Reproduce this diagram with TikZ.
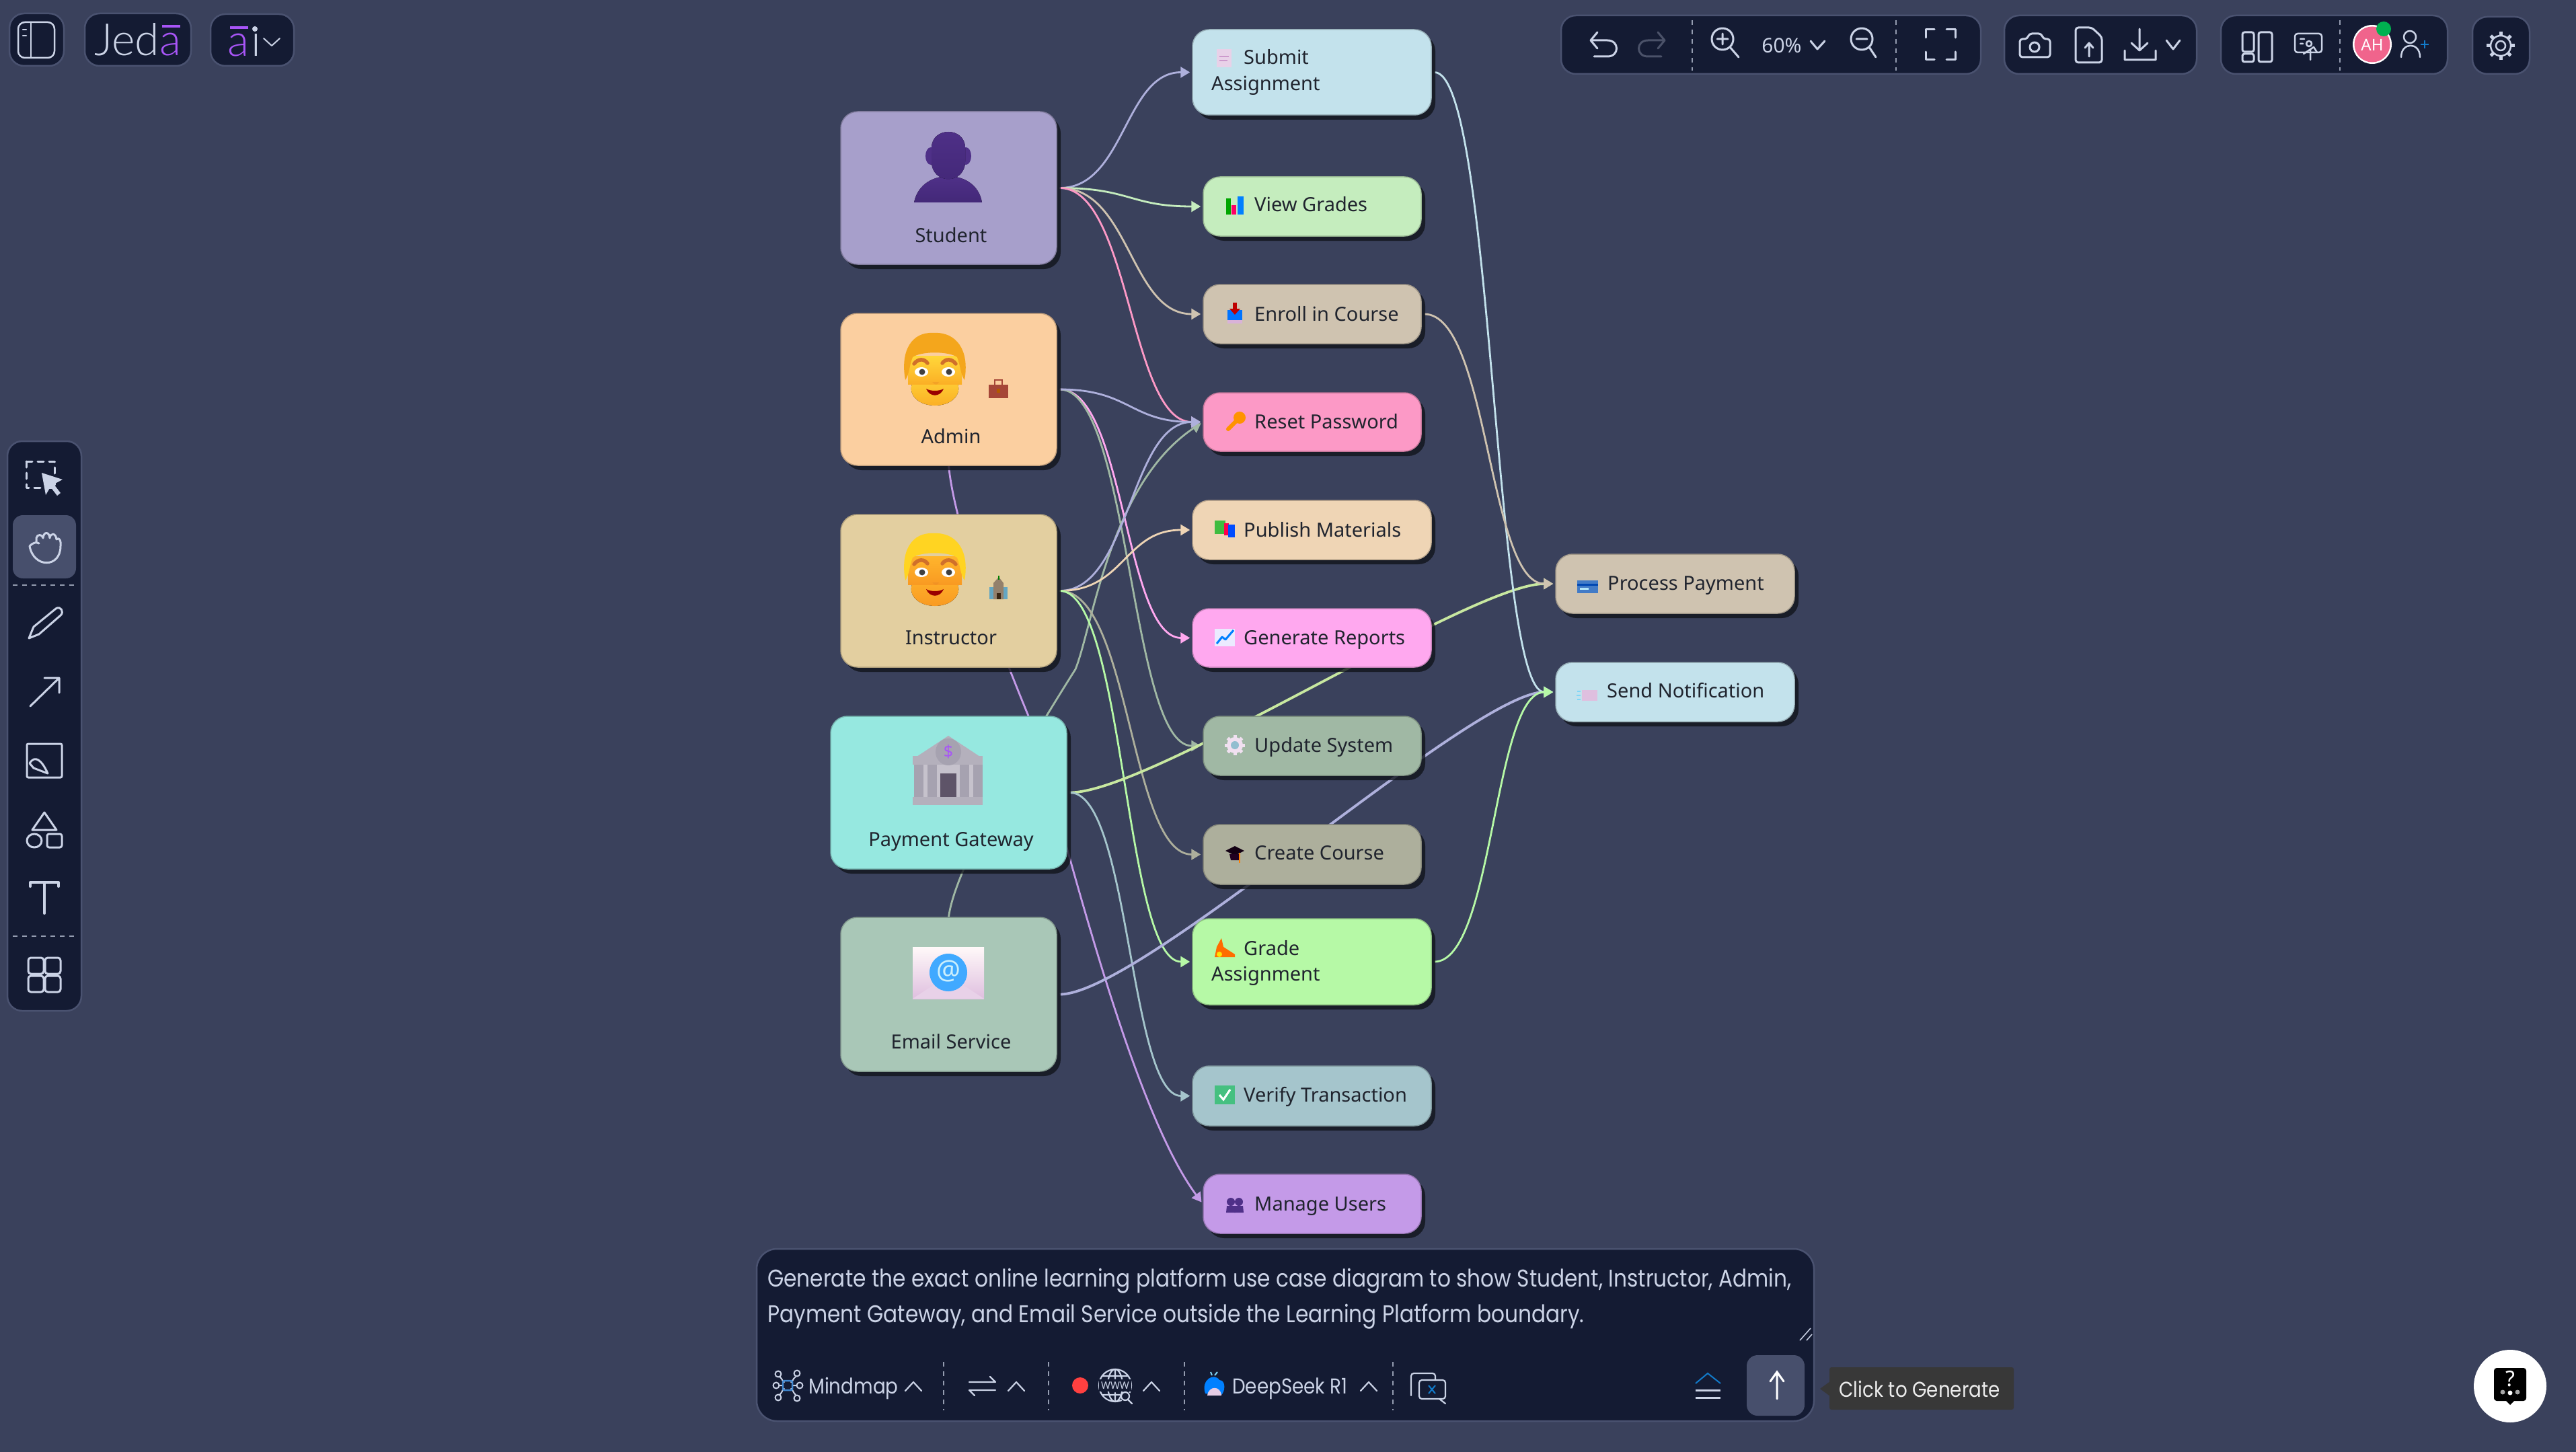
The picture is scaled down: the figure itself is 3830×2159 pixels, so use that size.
\documentclass[tikz,border=0pt]{standalone}
\usepackage{fontspec}
\setmainfont{Noto Sans}
\newfontfamily\uifont[FakeStretch=0.868]{Poppins}
\newfontfamily\logofont[UprightFont=* Light]{Lato}
\usetikzlibrary{calc,arrows.meta,shadows}
\pgfdeclarelayer{bglayer}\pgfdeclarelayer{edgelayer}
\pgfsetlayers{bglayer,edgelayer,main}
\definecolor{bgc}{HTML}{3A415C}
\definecolor{panelc}{HTML}{141B33}
\definecolor{panelb}{HTML}{4A5270}
\definecolor{icol}{HTML}{CBD3E6}
\definecolor{inkc}{HTML}{20242E}
\definecolor{purp}{HTML}{A855F7}
\definecolor{cStudent}{HTML}{A79FCB}
\definecolor{cAdmin}{HTML}{FBCFA0}
\definecolor{cInstr}{HTML}{E3CFA0}
\definecolor{cPay}{HTML}{96E8E0}
\definecolor{cMail}{HTML}{A9C7B7}
\definecolor{cSubmit}{HTML}{C3E2EC}
\definecolor{cView}{HTML}{C5EDBE}
\definecolor{cEnroll}{HTML}{CFC3B0}
\definecolor{cReset}{HTML}{FC99C6}
\definecolor{cPublish}{HTML}{EFD5B5}
\definecolor{cGen}{HTML}{FFA8EF}
\definecolor{cUpdate}{HTML}{A0B8A4}
\definecolor{cCreate}{HTML}{ADAF9C}
\definecolor{cGrade}{HTML}{B6F9A6}
\definecolor{cVerify}{HTML}{A5C5CC}
\definecolor{cManage}{HTML}{C49AE8}
\definecolor{cLav}{HTML}{AEB0DC}
\definecolor{cPaleG}{HTML}{C8E8A0}
\definecolor{bankA}{HTML}{B4B0BC}
\definecolor{bankB}{HTML}{C6C2CC}
\definecolor{bankC}{HTML}{A6A2B0}
\definecolor{bankD}{HTML}{5E5468}
\definecolor{persA}{HTML}{4F3088}
\definecolor{persB}{HTML}{432878}
\definecolor{adHair}{HTML}{F4A61C}
\definecolor{adSkinA}{HTML}{FFD83A}
\definecolor{adSkinB}{HTML}{FBAF25}
\definecolor{inHair}{HTML}{FFD422}
\definecolor{inSkinA}{HTML}{FFB52C}
\definecolor{inSkinB}{HTML}{F99A22}
\definecolor{browc}{HTML}{D0702A}
\definecolor{checkc}{HTML}{45C080}
\definecolor{avatarc}{HTML}{F0648C}
\tikzset{
 boxnode/.style={rectangle,rounded corners=25pt,line width=1.5pt,inner sep=0pt,
   drop shadow={shadow xshift=6pt,shadow yshift=-7pt,fill=black!70!bgc,opacity=.8}},
 edge/.style={line width=2.8pt,-{Triangle[length=14pt,width=16pt]},shorten >=3pt,shorten <=4pt},
 lblc/.style={font=\fontsize{29}{32}\selectfont,text=inkc,inner sep=0pt,anchor=base},
 lbll/.style={font=\fontsize{29}{32}\selectfont,text=inkc,inner sep=0pt,anchor=base west},
 uipanel/.style={fill=panelc,draw=panelb,line width=2.5pt,rounded corners=22pt},
 uiicon/.style={draw=icol,line width=3pt,line cap=round,line join=round},
 uisep/.style={draw=icol!70!panelc,line width=1.5pt,dash pattern=on 7pt off 7pt},
 uitext/.style={text=icol,inner sep=0pt,anchor=base west},
}
\newcommand{\mkbox}[6]{\pgfmathsetmacro\bw{#4-#2}\pgfmathsetmacro\bh{#5-#3}\pgfmathsetmacro\bx{(#2+#4)/2}\pgfmathsetmacro\by{(#3+#5)/2}%
 \node[boxnode,fill=#6,draw=#6!78!black,minimum width=\bw pt,minimum height=\bh pt] (#1) at (\bx,\by) {};}
\newcommand{\conn}[3]{\begin{pgfonlayer}{edgelayer}\draw[edge,draw=#1] let \p1=(#2),\p2=(#3),\p3=($(#2)!.5!(#3)$) in (#2) .. controls (\x3,\y1) and (\x3,\y2) .. (#3);\end{pgfonlayer}}
\newcommand{\connlong}[3]{\begin{pgfonlayer}{edgelayer}\draw[edge,line width=3.8pt,draw=#1] (#2) .. controls ([xshift=125pt]#2) and ([xshift=-125pt]#3) .. (#3);\end{pgfonlayer}}
\newcommand{\facepic}[6]{%x,y,hair,skin top,skin bottom,brow
 \begin{scope}[shift={(#1,#2)}]
 \fill[top color=#4,bottom color=#5] (0,5) .. controls (-48,5) and (-46,53) .. (0,54) .. controls (46,53) and (48,5) .. (0,5) -- cycle;
 \fill[top color=#4,bottom color=#5] (-40,-20) rectangle (40,22);
 \fill[#3] (-44,16) .. controls (-52,-28) and (-34,-56) .. (-2,-54) .. controls (32,-56) and (52,-28) .. (44,16) .. controls (38,8) and (38,-6) .. (33,-18) .. controls (20,-27) and (-20,-27) .. (-33,-18) .. controls (-38,-6) and (-38,8) .. (-44,16) -- cycle;
 \draw[browc,line width=5.5pt,line cap=round] (-31,-8) .. controls (-25,-16) and (-16,-16) .. (-11,-9);
 \draw[browc,line width=5.5pt,line cap=round] (11,-9) .. controls (16,-16) and (25,-16) .. (31,-8);
 \fill[white] (-20,4) ellipse [x radius=10,y radius=7];\fill[white] (20,4) ellipse [x radius=10,y radius=7];
 \fill[black!75] (-19,4) circle (4.5);\fill[black!75] (21,4) circle (4.5);
 \fill[#5!80!browc] (-4,19) .. controls (0,24) and (4,24) .. (6,19) -- cycle;
 \fill[red!60!black] (-13,29) .. controls (-6,33) and (6,33) .. (13,29) .. controls (8,42) and (-8,42) .. (-13,29) -- cycle;
 \end{scope}}
\begin{document}
\begin{tikzpicture}[x=1pt,y=-1pt]
\useasboundingbox (0,0) rectangle (3830,2159);
\begin{pgfonlayer}{bglayer}\fill[bgc] (0,0) rectangle (3830,2159);\end{pgfonlayer}
% ---- nodes
\mkbox{student}{1250}{166}{1571}{393}{cStudent}
\mkbox{admin}{1250}{466}{1571}{692}{cAdmin}
\mkbox{instr}{1250}{765}{1571}{992}{cInstr}
\mkbox{pay}{1235}{1065}{1586}{1292}{cPay}
\mkbox{mail}{1250}{1364}{1571}{1593}{cMail}
\mkbox{submit}{1773}{44}{2128}{171}{cSubmit}
\mkbox{view}{1789}{263}{2113}{351}{cView}
\mkbox{enroll}{1789}{423}{2113}{511}{cEnroll}
\mkbox{reset}{1789}{584}{2113}{671}{cReset}
\mkbox{publish}{1773}{744}{2128}{832}{cPublish}
\mkbox{gen}{1773}{905}{2128}{992}{cGen}
\mkbox{update}{1789}{1065}{2113}{1153}{cUpdate}
\mkbox{create}{1789}{1226}{2113}{1315}{cCreate}
\mkbox{grade}{1773}{1366}{2128}{1494}{cGrade}
\mkbox{verify}{1773}{1585}{2128}{1674}{cVerify}
\mkbox{manage}{1789}{1746}{2113}{1834}{cManage}
\mkbox{process}{2313}{824}{2668}{912}{cEnroll}
\mkbox{send}{2313}{985}{2668}{1073}{cSubmit}
\coordinate (kinkA) at (1528,1062);
\coordinate (kinkB) at (1599,995);
% ---- connectors
\begin{pgfonlayer}{edgelayer}
\draw[edge,shorten <=0pt,draw=cManage] (admin.south) .. controls (1420,790) and (1490,970) .. (kinkA) .. controls (1566,1162) and (1670,1630) .. (manage.west);
\draw[edge,shorten <=0pt,draw=cUpdate] (mail.north) .. controls (1420,1290) and (1520,1120) .. (kinkB) .. controls (1625,930) and (1650,720) .. (reset.west);
\end{pgfonlayer}
\conn{cLav}{student.east}{submit.west}
\conn{cView}{student.east}{view.west}
\conn{cEnroll}{student.east}{enroll.west}
\conn{cReset}{student.east}{reset.west}
\conn{cGen}{admin.east}{gen.west}
\conn{cUpdate}{admin.east}{update.west}
\conn{cLav}{admin.east}{reset.west}
\conn{cLav}{instr.east}{reset.west}
\conn{cPublish}{instr.east}{publish.west}
\conn{cCreate}{instr.east}{create.west}
\conn{cGrade}{instr.east}{grade.west}
\connlong{cPaleG}{pay.east}{process.west}
\conn{cVerify}{pay.east}{verify.west}
\connlong{cLav}{mail.east}{send.west}
\conn{cSubmit}{submit.east}{send.west}
\conn{cEnroll}{enroll.east}{process.west}
\conn{cGrade}{grade.east}{send.west}
% ---- labels
\node[lblc] (tstudent) at (1414,360) {Student};
\node[lblc] (tadmin) at (1414,659) {Admin};
\node[lblc] (tinstr) at (1414,958) {Instructor};
\node[lblc] (tpay) at (1414,1258) {Payment Gateway};
\node[lblc] (tmail) at (1414,1559) {Email Service};
\node[lbll] (tsub1) at (1849,96) {Submit};
\node[lbll] (tsub2) at (1801,135) {Assignment};
\node[lbll] (tview) at (1865,314) {View Grades};
\node[lbll] (tenroll) at (1865,477) {Enroll in Course};
\node[lbll] (treset) at (1865,637) {Reset Password};
\node[lbll] (tpub) at (1849,798) {Publish Materials};
\node[lbll] (tgen) at (1849,958) {Generate Reports};
\node[lbll] (tupd) at (1865,1118) {Update System};
\node[lbll] (tcre) at (1865,1278) {Create Course};
\node[lbll] (tgr1) at (1849,1420) {Grade};
\node[lbll] (tgr2) at (1801,1458) {Assignment};
\node[lbll] (tver) at (1849,1638) {Verify Transaction};
\node[lbll] (tman) at (1865,1800) {Manage Users};
\node[lbll] (tpro) at (2390,877) {Process Payment};
\node[lbll] (tsen) at (2389,1037) {Send Notification};
% ---- large pictures
\fill[top color=persA,bottom color=persB] (1359,301) .. controls (1365,272) and (1390,262) .. (1410,262) .. controls (1430,262) and (1455,272) .. (1460,301) -- cycle;
\fill[persA] (1384,232) ellipse [x radius=8,y radius=13];\fill[persA] (1436,232) ellipse [x radius=8,y radius=13];
\fill[top color=persA,bottom color=persB] (1385,220) .. controls (1385,188) and (1435,188) .. (1435,220) -- (1435,240) .. controls (1435,275) and (1385,275) .. (1385,240) -- cycle;
\facepic{1390}{549}{adHair}{adSkinA}{adSkinB}{browc}
\facepic{1390}{847}{inHair}{inSkinA}{inSkinB}{browc}
% briefcase
\fill[black!30!purple!45!brown] (1470,572) rectangle (1499,592);
\draw[black!30!purple!45!brown,line width=2.5pt] (1479,572) -- (1479,565) -- (1490,565) -- (1490,572);
\fill[orange!70!black] (1482,578) rectangle (1487,584);
% house
\fill[cyan!50!gray] (1471,873) rectangle (1498,891);\fill[gray!70!brown] (1477,867) -- (1485,858) -- (1492,867) -- (1492,891) -- (1477,891) -- cycle;
\fill[green!50!black] (1484,862) rectangle (1486,856);\fill[black!70!brown] (1482,882) rectangle (1488,891);
% bank
\fill[bankA] (1410,1094) -- (1457,1125) -- (1363,1125) -- cycle;
\fill[bankA] (1357,1124) rectangle (1461,1137);
\fill[bankB] (1373,1137) rectangle (1447,1185);
\foreach \cx in {1366,1386,1434,1454}{\fill[bankC] (\cx-7,1137) rectangle (\cx+7,1185);}
\fill[bankD] (1398,1150) rectangle (1422,1185);
\fill[bankA] (1357,1185) rectangle (1461,1197);
\fill[bankC] (1410,1118) ellipse [x radius=19,y radius=20];
\node[font=\bfseries\fontsize{25}{25}\selectfont,text=purp,inner sep=0pt] (bankd) at (1410,1118) {\$};
% envelope
\fill[top color=white!90!pink,bottom color=violet!25!white] (1357,1408) rectangle (1463,1485);
\fill[violet!18!white] (1357,1485) -- (1410,1450) -- (1463,1485) -- cycle;
\fill[blue!45!cyan!75!white] (1410,1446) circle (28);
\node[font=\fontsize{40}{40}\selectfont,text=white!80!cyan,inner sep=0pt] (mailat) at (1410,1444) {@};
% ---- small icons
\fill[violet!18!white] (1809,73) rectangle (1831,100);\draw[violet!40!white,line width=1.5pt] (1813,84)--(1827,84) (1813,90)--(1825,90);
\fill[green!65!black] (1823,295) rectangle (1830,319);\fill[red!60!magenta] (1831,305) rectangle (1838,319);\fill[blue!50!cyan] (1840,292) rectangle (1849,319);
\fill[white!70!violet] (1825,472) rectangle (1847,481);\fill[blue!55!cyan] (1825,461) rectangle (1847,476);\fill[red!75!black] (1833,450) rectangle (1839,460);\fill[red!75!black] (1828,459) -- (1844,459) -- (1836,468) -- cycle;
\draw[orange!85!yellow,line width=6pt,line cap=round] (1842,622) -- (1826,638);\fill[orange!85!yellow] (1843,621) circle (9);
\fill[green!65!black!75!white] (1806,774) rectangle (1822,794);\fill[red!70!magenta] (1820,778) rectangle (1827,796);\fill[blue!70!cyan] (1826,780) rectangle (1836,799);
\fill[blue!8!white] (1806,935) rectangle (1836,961);\draw[blue!50!cyan,line width=3pt,line join=round] (1809,957)--(1817,947)--(1822,951)--(1834,937);
\fill[violet!12!white] (1836,1108) circle (12);\fill[gray!55!cyan!70!white] (1836,1108) circle (6);
\foreach \a in {0,45,...,315}{\draw[violet!12!white,line width=5pt] ([shift={(1836,1108)}]\a:11) -- ([shift={(1836,1108)}]\a:15);}
\fill[black!85!violet] (1822,1265) -- (1836,1258) -- (1850,1265) -- (1836,1272) -- cycle;\fill[black!75!violet] (1828,1270) -- (1844,1270) -- (1842,1279) -- (1830,1279) -- cycle;\draw[orange,line width=2pt] (1843,1268)--(1843,1283);
\fill[orange!85!red] (1806,1423) -- (1809,1408) -- (1816,1395) -- (1819,1408) -- (1836,1419) -- (1836,1423) -- cycle;\fill[yellow!85!orange] (1813,1419) circle (4);
\fill[checkc] (1806,1614) rectangle (1836,1642);\draw[white,line width=3pt] (1813,1628) -- (1819,1635) -- (1829,1620);
\foreach \ux in {1830,1842}{\fill[persA] (\ux,1787) circle (6);\fill[persA] (\ux-7,1803) -- (\ux-6,1793) -- (\ux+6,1793) -- (\ux+7,1803) -- cycle;}
\fill[cyan!45!blue!80!white] (2345,863) rectangle (2376,882);\fill[blue!60!cyan!70!black] (2345,868) rectangle (2376,871);\fill[white!70!cyan] (2349,874) rectangle (2362,877);
\fill[violet!25!white] (2352,1026) rectangle (2375,1042);\draw[cyan!50!white,line width=1.5pt] (2345,1028)--(2350,1028) (2344,1034)--(2350,1034) (2345,1040)--(2350,1040);
% ---- top-left panels
\draw[uipanel] (14,20) rectangle (95,98);
\draw[uiicon,line width=2.5pt,rounded corners=10pt] (27,33) rectangle (81,86);
\draw[uiicon,line width=2.5pt] (46,33)--(46,86) (34,44)--(39,44) (34,53)--(39,53);
\draw[uipanel] (126,20) rectangle (284,98);
\node[uitext,font=\logofont\fontsize{66}{66}\selectfont] (tjed) at (140,83) {Jed};
\node[uitext,font=\logofont\fontsize{66}{66}\selectfont,text=purp] (tjeda) at (237,83) {a};
\draw[purp,line width=3.5pt] (241,39)--(268,39);
\draw[uipanel] (313,21) rectangle (437,98);
\node[uitext,font=\logofont\fontsize{66}{66}\selectfont,text=purp] (tai) at (338,84) {a};
\node[uitext,font=\logofont\fontsize{66}{66}\selectfont] (taii) at (373,84) {ı};
\fill[icol] (379,43) circle (4);
\draw[purp,line width=3.5pt] (342,41)--(369,41);
\draw[uiicon,line width=2pt] (392,57)--(404,68)--(416,57);
% ---- top-right panels
\draw[uipanel] (2321,23) rectangle (2945,110);
\draw[uiicon] (2370,84)--(2390,84) .. controls (2408,84) and (2408,60) .. (2390,60) -- (2365,60) (2375,48)--(2365,60)--(2375,72);
\draw[uiicon,draw=icol!30!panelc] (2470,84)--(2450,84) .. controls (2432,84) and (2432,60) .. (2450,60) -- (2475,60) (2465,48)--(2475,60)--(2465,72);
\draw[uisep] (2516,30)--(2516,105);
\draw[uiicon] (2561,58) circle (16) (2572,70)--(2585,85) (2553,58)--(2569,58) (2561,50)--(2561,66);
\node[uitext,font=\bfseries\fontsize{30}{30}\selectfont,anchor=base] (tzoom) at (2649,79) {60\%};
\draw[uiicon] (2692,61)--(2702,73)--(2713,61);
\draw[uiicon] (2768,58) circle (16) (2779,70)--(2789,85) (2760,58)--(2776,58);
\draw[uisep] (2819,30)--(2819,105);
\draw[uiicon] (2863,56)--(2863,44)--(2876,44) (2894,44)--(2907,44)--(2907,56) (2863,77)--(2863,89)--(2876,89) (2894,89)--(2907,89)--(2907,77);
\draw[uipanel] (2980,23) rectangle (3266,110);
\draw[uiicon,rounded corners=4pt] (3003,58)--(3014,58)--(3017,50)--(3035,50)--(3038,58)--(3048,58)--(3048,85)--(3003,85)--cycle;
\draw[uiicon] (3025,70) circle (7);
\draw[uiicon,rounded corners=4pt] (3086,93)--(3086,41)--(3110,41)--(3125,55)--(3125,93)--cycle;
\draw[uiicon] (3106,84)--(3106,64) (3100,71)--(3106,64)--(3112,71);
\draw[uiicon] (3181,43)--(3181,75) (3169,64)--(3181,75)--(3193,64) (3159,75)--(3159,89)--(3205,89)--(3205,75);
\draw[uiicon] (3221,60)--(3231,73)--(3241,60);
\draw[uipanel] (3302,23) rectangle (3639,110);
\draw[uiicon,rounded corners=3pt] (3334,48) rectangle (3351,77);
\draw[uiicon,rounded corners=3pt] (3334,80) rectangle (3351,92);
\draw[uiicon,rounded corners=3pt] (3358,48) rectangle (3378,92);
\draw[uiicon,line width=2.5pt,rounded corners=4pt] (3412,50) rectangle (3452,78);
\draw[uiicon,line width=2.5pt] (3420,58)--(3426,58) (3420,65)--(3424,65) (3433,65) circle (4) (3425,80)--(3440,70)--(3445,78) (3435,75)--(3435,89);
\draw[uisep] (3479,30)--(3479,105);
\fill[white] (3527,66) circle (29);\fill[avatarc] (3527,66) circle (26.5);
\node[font=\fontsize{24}{24}\selectfont,text=white,inner sep=0pt] (tah) at (3527,67) {AH};
\fill[green!55!cyan!70!black] (3544,43) circle (11);
\draw[uiicon,line width=2.5pt] (3583,55) circle (9) (3570,85) .. controls (3570,62) and (3598,62) .. (3598,85);
\draw[cyan!60!blue,line width=2.5pt] (3599,66)--(3611,66) (3605,60)--(3605,72);
\draw[uipanel] (3676,25) rectangle (3761,110);
\draw[uiicon,line width=2.5pt] (3718,68) circle (7) (3718,68) circle (15);
\foreach \a in {0,45,...,315}{\draw[uiicon,line width=5pt,line cap=butt] ([shift={(3718,68)}]\a:15) -- ([shift={(3718,68)}]\a:21);}
% ---- left toolbar
\draw[uipanel] (11,656) rectangle (121,1503);
\fill[panelb!80!bgc,rounded corners=15pt] (19,766) rectangle (113,860);
\draw[uiicon,dash pattern=on 9pt off 8pt] (39,686) rectangle (81,725);
\fill[icol] (62,703)--(93,713)--(80,720)--(90,733)--(85,737)--(75,724)--(68,736)--cycle;
\draw[uiicon] (44,812) .. controls (50,806) and (54,806) .. (58,808) (54,806)--(54,800) .. controls (55,794) and (63,794) .. (64,800) (64,800) .. controls (65,790) and (73,790) .. (74,800) (74,800) .. controls (75,792) and (83,792) .. (84,802) (84,802) .. controls (88,798) and (91,804) .. (90,812) .. controls (90,845) and (50,845) .. (44,812);
\draw[uiicon] (43,949)--(50,932)--(83,905) .. controls (90,900) and (96,910) .. (90,915) -- (58,943)--cycle;
\draw[uiicon] (45,1050)--(88,1008) (66,1008)--(88,1008)--(88,1030);
\draw[uiicon,rounded corners=2pt] (40,1106) rectangle (92,1156);
\draw[uiicon] (44,1135) .. controls (52,1122) and (62,1130) .. (71,1150) -- (50,1142) --cycle;
\draw[uiicon] (66,1208)--(84,1234)--(48,1234)--cycle (51,1250) ellipse [x radius=11,y radius=10];
\draw[uiicon,rounded corners=3pt] (70,1240) rectangle (92,1260);
\draw[uiicon,line width=4pt] (45,1312)--(87,1312) (66,1312)--(66,1358) (45,1312)--(45,1318) (87,1312)--(87,1318);
\draw[uiicon,rounded corners=4pt] (42,1424) rectangle (65,1448) (67,1424) rectangle (90,1448) (42,1451) rectangle (65,1475) (67,1451) rectangle (90,1475);
\draw[uisep] (19,870)--(113,870) (19,1392)--(113,1392);
% ---- prompt panel
\draw[uipanel,rounded corners=30pt] (1125,1857) rectangle (2697,2113);
\node[uitext,font=\uifont\fontsize{36}{36}\selectfont] (tp1) at (1141,1913) {Generate the exact online learning platform use case diagram to show Student, Instructor, Admin,};
\node[uitext,font=\uifont\fontsize{36}{36}\selectfont] (tp2) at (1141,1966) {Payment Gateway, and Email Service outside the Learning Platform boundary.};
\draw[icol,line width=1.5pt] (2676,1993)--(2692,1975) (2686,1993)--(2694,1984);
\foreach \mx/\my in {1157/2043,1185/2042,1154/2060,1189/2060,1157/2078,1185/2079}{\draw[uiicon,line width=2pt] (\mx,\my) circle (4.5);}
\draw[uiicon,line width=2pt] (1159,2047) .. controls (1165,2052) and (1163,2055) .. (1166,2055) (1183,2047) .. controls (1177,2052) and (1179,2055) .. (1176,2055) (1159,2060)--(1164,2060) (1178,2060)--(1184,2060) (1159,2074) .. controls (1165,2068) and (1163,2065) .. (1166,2065) (1183,2074) .. controls (1177,2068) and (1179,2065) .. (1176,2065);
\draw[cyan!55!blue!80!white,line width=2.5pt,rounded corners=2pt] (1164,2053) rectangle (1178,2067);
\node[uitext,font=\uifont\fontsize{32}{32}\selectfont] (tmm) at (1202,2072) {Mindmap};
\draw[uiicon,line width=2.2pt] (1346,2068)--(1358,2055)--(1370,2068);
\draw[uisep] (1403,2025)--(1403,2097);
\draw[uiicon,line width=2.2pt] (1441,2055)--(1480,2055)--(1472,2047) (1480,2067)--(1441,2067)--(1449,2075);
\draw[uiicon,line width=2.2pt] (1499,2068)--(1511,2055)--(1523,2068);
\draw[uisep] (1559,2025)--(1559,2097);
\fill[red!75!white] (1606,2060) circle (12);
\draw[uiicon,line width=2.2pt] (1658,2060) circle (24) (1658,2060) ellipse [x radius=11,y radius=24] (1658,2036)--(1658,2050) (1658,2071)--(1658,2084) (1639,2046)--(1677,2046) (1639,2074)--(1665,2074);
\fill[panelc] (1634,2051) rectangle (1682,2069);
\node[font=\fontsize{15}{15}\selectfont,text=icol,inner sep=0pt] (twww) at (1658,2060) {WWW};
\fill[panelc] (1674,2077) circle (8);\draw[uiicon,line width=2.2pt] (1673,2076) circle (6) (1677,2081)--(1683,2087);
\draw[uiicon,line width=2.2pt] (1700,2068)--(1712,2055)--(1724,2068);
\draw[uisep] (1761,2025)--(1761,2097);
\fill[blue!50!cyan] (1792,2072) .. controls (1785,2052) and (1805,2040) .. (1813,2052) .. controls (1823,2052) and (1822,2070) .. (1815,2075) -- cycle;
\fill[violet!20!white] (1795,2075) .. controls (1797,2060) and (1815,2060) .. (1816,2075) -- cycle;
\draw[cyan!50!white,line width=2pt] (1802,2045)--(1800,2040) (1806,2045)--(1810,2040);
\node[uitext,font=\uifont\fontsize{32}{32}\selectfont] (tds) at (1832,2072) {DeepSeek R1};
\draw[uiicon,line width=2.2pt] (2023,2068)--(2035,2055)--(2047,2068);
\draw[uisep] (2071,2025)--(2071,2097);
\draw[uiicon,line width=2.2pt,rounded corners=4pt] (2098,2075)--(2098,2042)--(2134,2042)--(2134,2052);
\draw[uiicon,line width=2.2pt,rounded corners=4pt] (2110,2052) rectangle (2149,2080);
\draw[uiicon,line width=2.2pt] (2140,2080)--(2149,2087);
\draw[cyan!60!blue,line width=2pt] (2124,2060)--(2134,2072) (2134,2060)--(2124,2072);
\draw[cyan!60!blue,line width=2pt] (2521,2057)--(2539,2042)--(2558,2057);
\draw[icol,line width=3pt] (2521,2067)--(2558,2067) (2521,2078)--(2558,2078);
\fill[panelb!80!bgc,rounded corners=16pt] (2597,2015) rectangle (2683,2105);
\draw[white,line width=3pt,line cap=round] (2642,2042)--(2642,2080) (2632,2054)--(2642,2040)--(2652,2054);
% tooltip
\fill[black!78,rounded corners=3pt] (2720,2033) rectangle (2994,2096);
\fill[black!78] (2721,2054) -- (2706,2065) -- (2721,2076) -- cycle;
\node[uitext,text=white!92!black,font=\uifont\fontsize{32}{32}\selectfont] (ttip) at (2734,2077) {Click to Generate};
% help
\fill[white] (3732,2061) circle (54);
\fill[black,rounded corners=4pt] (3708,2034) rectangle (3756,2083);\fill[black] (3725,2082)--(3739,2082)--(3732,2089)--cycle;
\node[font=\bfseries\fontsize{32}{32}\selectfont,text=white,inner sep=0pt] (thelp) at (3732,2050) {?};
\fill[gray!70] (3721,2070) circle (3.5);\fill[white] (3732,2071) circle (3.5);\fill[gray!70] (3743,2070) circle (3.5);
\end{tikzpicture}
\end{document}
